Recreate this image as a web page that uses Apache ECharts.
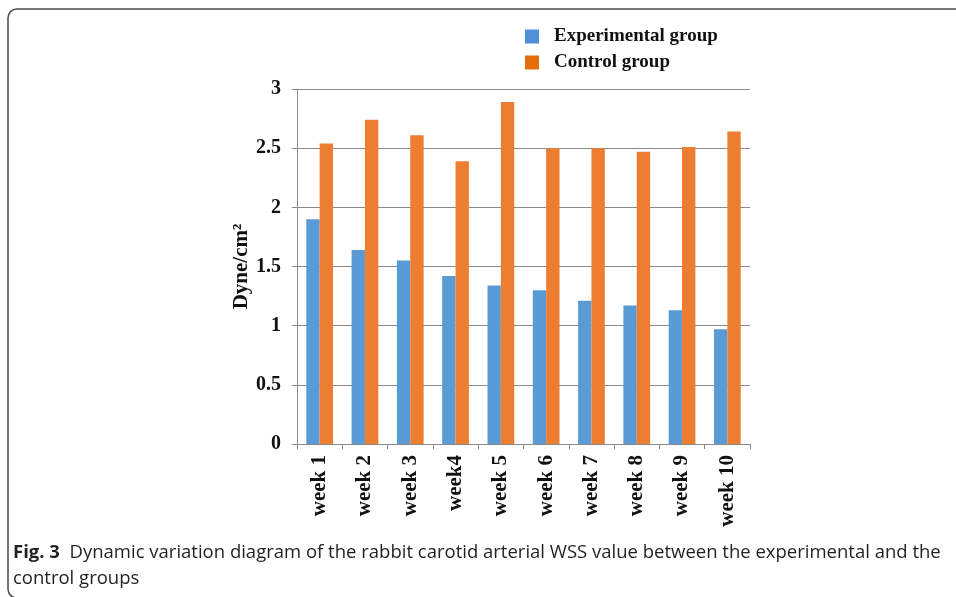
<!DOCTYPE html>
<html>
<head>
<meta charset="utf-8">
<script src="https://cdn.jsdelivr.net/npm/echarts@6/dist/echarts.min.js"></script>
<style>html,body{margin:0;padding:0;background:#fff;}#c{width:956px;height:597px;}</style>
</head>
<body>
<div id="c"></div>
<script>
const categories = ['week 1','week 2','week 3','week4','week 5','week 6','week 7','week 8','week 9','week 10'];
const experimental = [1.90, 1.64, 1.55, 1.42, 1.34, 1.30, 1.21, 1.17, 1.13, 0.97];
const control = [2.54, 2.74, 2.61, 2.39, 2.89, 2.50, 2.50, 2.47, 2.51, 2.64];
const seriesNames = ['Experimental group', 'Control group'];
const yTicks = {min: 0, max: 3, interval: 0.5};
const yName = 'Dyne/cm\u00B2';
const captionBold = 'Fig. 3';
const captionLine1 = 'Dynamic variation diagram of the rabbit carotid arterial WSS value between the experimental and the';
const captionLine2 = 'control groups';

const serif = '"Liberation Serif", "Times New Roman", serif';
const axisGray = '#8a8a8a';

const chart = echarts.init(document.getElementById('c'), null, {renderer: 'canvas'});
chart.setOption({
  animation: false,
  backgroundColor: '#fff',
  grid: {left: 297, right: 206, top: 89, bottom: 153, containLabel: false},
  legend: {
    orient: 'vertical',
    left: 520, top: 22,
    itemWidth: 14, itemHeight: 14, itemGap: 7,
    icon: 'rect',
    textStyle: {fontFamily: serif, fontWeight: 'bold', fontSize: 19, color: '#111', padding: [0,0,0,10]},
    data: [
      {name: seriesNames[0], itemStyle: {color: '#4F8FD8'}},
      {name: seriesNames[1], itemStyle: {color: '#E46C0A'}}
    ]
  },
  xAxis: {
    type: 'category',
    data: categories,
    axisLine: {lineStyle: {color: axisGray, width: 1}},
    axisTick: {show: true, length: 5, lineStyle: {color: axisGray}},
    axisLabel: {rotate: 90, margin: 11, fontFamily: serif, fontWeight: 'bold', fontSize: 21, color: '#111'}
  },
  yAxis: {
    type: 'value',
    min: yTicks.min, max: yTicks.max, interval: yTicks.interval,
    name: yName,
    nameLocation: 'middle',
    nameGap: 44,
    nameTextStyle: {fontFamily: serif, fontWeight: 'bold', fontSize: 21, color: '#111'},
    axisLine: {show: true, lineStyle: {color: axisGray, width: 1}},
    axisTick: {show: true, length: 5, lineStyle: {color: axisGray}},
    axisLabel: {margin: 16, fontFamily: serif, fontWeight: 'bold', fontSize: 20, color: '#111'},
    splitLine: {lineStyle: {color: axisGray, width: 1}}
  },
  series: [
    {name: seriesNames[0], type: 'bar', data: experimental, barGap: '0%', barCategoryGap: '41%', itemStyle: {color: '#5B9BD5'}},
    {name: seriesNames[1], type: 'bar', data: control, barGap: '0%', barCategoryGap: '41%', itemStyle: {color: '#ED7D31'}}
  ],
  graphic: [
    {type: 'rect', silent: true, z: -1,
     shape: {x: 8, y: 9, width: 1000, height: 589, r: 9},
     style: {fill: 'none', stroke: '#4a4a4a', lineWidth: 1.5}},
    {type: 'text', x: 13, y: 553, silent: true,
     style: {
       text: '{b|' + captionBold + '}  ' + captionLine1,
       fontFamily: '"Open Sans", sans-serif', fontSize: 18.5, fill: '#231f20',
       verticalAlign: 'middle',
       rich: {b: {fontFamily: '"Open Sans", sans-serif', fontWeight: 'bold', fontSize: 18.5, fill: '#231f20'}}
     }},
    {type: 'text', x: 13, y: 579, silent: true,
     style: {text: captionLine2, fontFamily: '"Open Sans", sans-serif', fontSize: 18.5, fill: '#231f20', verticalAlign: 'middle'}}
  ]
});
</script>
</body>
</html>
